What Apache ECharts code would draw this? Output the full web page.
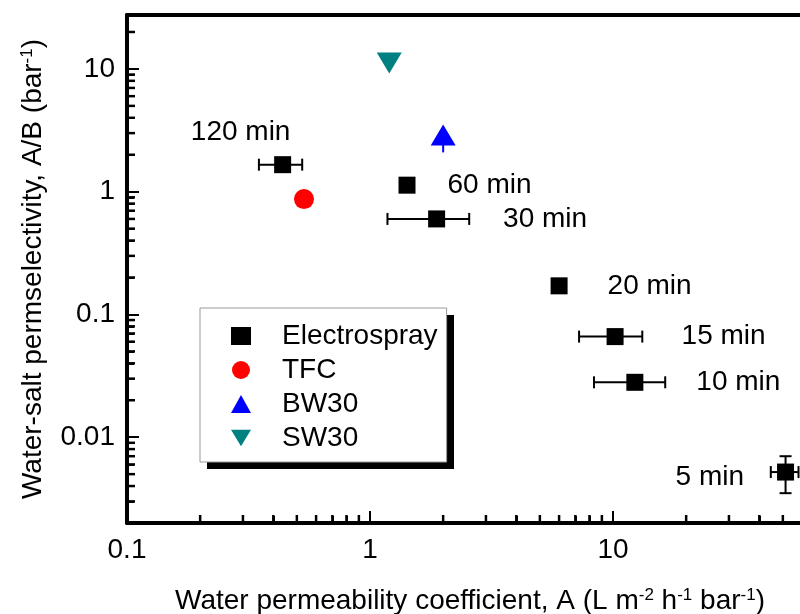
<!DOCTYPE html>
<html>
<head>
<meta charset="utf-8">
<script src="https://cdn.jsdelivr.net/npm/echarts@6/dist/echarts.min.js"></script>
<style>
  html, body { margin: 0; padding: 0; background: #fff; }
  #main { width: 800px; height: 614px; }
</style>
</head>
<body>
<div id="main"></div>
<script>
// electrospray membranes (spray time)
var sprayLabels = ['120 min', '60 min', '30 min', '20 min', '15 min', '10 min', '5 min'];
var sprayA = [0.437, 1.42, 1.88, 6.0, 10.2, 12.3, 51.3];
var sprayAB = [1.66, 1.13, 0.60, 0.171, 0.066, 0.028, 0.0052];
// error bars (null = none drawn)
var sprayALow = [0.349, null, 1.18, null, 7.25, 8.35, 44.6];
var sprayAHigh = [0.526, null, 2.56, null, 13.2, 16.4, 58];
var sprayABLow = [null, null, null, null, null, null, 0.0035];
var sprayABHigh = [null, null, null, null, null, null, 0.0070];

// commercial / reference membranes
var tfcA = [0.535];
var tfcAB = [0.87];
var bw30A = [2.0];
var bw30AB = [2.9];
var bw30ABLow = [2.09];
var bw30ABHigh = [3.3];
var sw30A = [1.20];
var sw30AB = [11.2];

// axes
var xRange = [0.1, 100];
var yRange = [0.002, 27.5];
var xTickLabels = ['0.1', '1', '10'];
var yTickLabels = ['0.01', '0.1', '1', '10'];
var xMinorTicks = [0.2, 0.3, 0.4, 0.5, 0.6, 0.7, 0.8, 0.9, 2, 3, 4, 5, 6, 7, 8, 9, 20, 30, 40, 50, 60, 70, 80, 90];
var yMinorTicks = [0.003, 0.004, 0.005, 0.006, 0.007, 0.008, 0.009,
  0.02, 0.03, 0.04, 0.05, 0.06, 0.07, 0.08, 0.09,
  0.2, 0.3, 0.4, 0.5, 0.6, 0.7, 0.8, 0.9,
  2, 3, 4, 5, 6, 7, 8, 9, 20];

var FONT = "'Liberation Sans', Arial, sans-serif";

// where each time label sits next to its point
var sprayLabelPlace = [
  { position: 'top', distance: 10, offset: [-42, 0] },
  { position: 'right', distance: 32 },
  { position: 'right', distance: 58 },
  { position: 'right', distance: 40 },
  { position: 'right', distance: 58 },
  { position: 'right', distance: 53 },
  { position: 'left', distance: 33, offset: [0, 5] }
];

var sprayData = sprayA.map(function (a, i) {
  return { name: sprayLabels[i], value: [a, sprayAB[i]], label: sprayLabelPlace[i] };
});

function errRows(xs, ys, xl, xh, yl, yh) {
  var rows = [];
  for (var i = 0; i < xs.length; i++) {
    if (xl[i] == null && yl[i] == null) continue;
    rows.push([xs[i], ys[i],
      xl[i] == null ? xs[i] : xl[i], xh[i] == null ? xs[i] : xh[i],
      yl[i] == null ? ys[i] : yl[i], yh[i] == null ? ys[i] : yh[i]]);
  }
  return rows;
}

function errorBars(color, cap) {
  return function (params, api) {
    var c = api.coord([api.value(0), api.value(1)]);
    var xl = api.coord([api.value(2), api.value(1)])[0];
    var xh = api.coord([api.value(3), api.value(1)])[0];
    var yl = api.coord([api.value(0), api.value(4)])[1];
    var yh = api.coord([api.value(0), api.value(5)])[1];
    var st = { stroke: color, lineWidth: 2 };
    var ch = [];
    if (xh - xl > 1) {
      ch.push({ type: 'line', shape: { x1: xl, y1: c[1], x2: xh, y2: c[1] }, style: st });
      if (cap) {
        ch.push({ type: 'line', shape: { x1: xl, y1: c[1] - cap, x2: xl, y2: c[1] + cap }, style: st });
        ch.push({ type: 'line', shape: { x1: xh, y1: c[1] - cap, x2: xh, y2: c[1] + cap }, style: st });
      }
    }
    if (yl - yh > 1) {
      ch.push({ type: 'line', shape: { x1: c[0], y1: yl, x2: c[0], y2: yh }, style: st });
      if (cap) {
        ch.push({ type: 'line', shape: { x1: c[0] - cap, y1: yl, x2: c[0] + cap, y2: yl }, style: st });
        ch.push({ type: 'line', shape: { x1: c[0] - cap, y1: yh, x2: c[0] + cap, y2: yh }, style: st });
      }
    }
    return { type: 'group', children: ch };
  };
}

// minor ticks (2..9 of each decade), pointing into the plot
function drawMinorTick(dx, dy) {
  return function (params, api) {
    var p = api.coord([api.value(0), api.value(1)]);
    return {
      type: 'line',
      z2: 100,
      shape: { x1: p[0], y1: p[1], x2: p[0] + dx, y2: p[1] + dy },
      style: { stroke: '#000', lineWidth: 2.5 }
    };
  };
}

// only the decade labels are written out
function labelOnly(list) {
  return function (v) {
    var s = String(+(+v).toPrecision(6));
    return list.indexOf(s) >= 0 ? s : '';
  };
}

var supRich = { sup: { fontSize: 17, verticalAlign: 'top', fontFamily: FONT, color: '#000' } };
var downTriangle = 'path://M0,0L24,0L12,20Z';

var myChart = echarts.init(document.getElementById('main'));
var option = {
  backgroundColor: '#fff',
  animation: false,
  textStyle: { fontFamily: FONT },
  grid: { left: 127, top: 15, right: -56, bottom: 91, containLabel: false, outerBoundsMode: 'none' },
  // hard drop shadow behind the legend box
  graphic: [{
    type: 'rect', z: 3, silent: true,
    shape: { x: 207, y: 315, width: 247, height: 154 },
    style: { fill: '#000' }
  }],
  legend: {
    orient: 'vertical',
    left: 200,
    top: 308,
    z: 5,
    padding: [14, 9, 10, 31],
    itemWidth: 20,
    itemHeight: 18,
    itemGap: 6,
    backgroundColor: '#fff',
    borderColor: '#999',
    borderWidth: 1,
    borderRadius: 0,
    textStyle: { fontSize: 28, color: '#000', fontFamily: FONT, padding: [0, 0, 0, 26] },
    data: [
      { name: 'Electrospray', icon: 'rect' },
      { name: 'TFC', icon: 'circle' },
      { name: 'BW30', icon: 'triangle' },
      { name: 'SW30', icon: downTriangle }
    ]
  },
  xAxis: [
    {
      type: 'log', min: xRange[0], max: xRange[1], position: 'bottom',
      axisLine: { show: true, onZero: false, lineStyle: { color: '#000', width: 4 } },
      axisTick: { show: true, inside: true, length: 12, lineStyle: { color: '#000', width: 2 } },
      minorTick: { show: true, splitNumber: 9, length: 7, lineStyle: { color: '#000', width: 2 } },
      axisLabel: { formatter: labelOnly(xTickLabels), fontSize: 28, margin: 13, color: '#000', fontFamily: FONT },
      splitLine: { show: false },
      name: 'Water permeability coefficient, A (L m{sup|-2} h{sup|-1} bar{sup|-1})',
      nameLocation: 'middle',
      nameGap: 64,
      nameTextStyle: { fontSize: 28, color: '#000', fontFamily: FONT, padding: [0, 43, 0, 0], rich: supRich }
    },
    {
      type: 'log', min: xRange[0], max: xRange[1], position: 'top',
      axisLine: { show: true, onZero: false, lineStyle: { color: '#000', width: 4 } },
      axisTick: { show: false },
      axisLabel: { show: false },
      splitLine: { show: false }
    }
  ],
  yAxis: [
    {
      type: 'log', min: yRange[0], max: yRange[1], position: 'left',
      axisLine: { show: true, onZero: false, lineStyle: { color: '#000', width: 4 } },
      axisTick: { show: true, inside: true, length: 12, lineStyle: { color: '#000', width: 2 } },
      minorTick: { show: true, splitNumber: 9, length: 7, lineStyle: { color: '#000', width: 2 } },
      axisLabel: { formatter: labelOnly(yTickLabels), fontSize: 28, margin: 12, color: '#000', fontFamily: FONT },
      splitLine: { show: false },
      name: 'Water-salt permselectivity, A/B (bar{sup|-1})',
      nameLocation: 'middle',
      nameGap: 80,
      nameTextStyle: { fontSize: 28, color: '#000', fontFamily: FONT, rich: supRich }
    }
  ],
  series: [
    {
      type: 'custom',
      name: 'x minor ticks',
      z: 10,
      silent: true,
      clip: false,
      renderItem: drawMinorTick(0, -8),
      data: xMinorTicks.map(function (v) { return [v, yRange[0]]; })
    },
    {
      type: 'custom',
      name: 'y minor ticks',
      z: 10,
      silent: true,
      clip: false,
      renderItem: drawMinorTick(8, 0),
      data: yMinorTicks.map(function (v) { return [xRange[0], v]; })
    },
    {
      type: 'custom',
      name: 'Electrospray error',
      z: 1,
      renderItem: errorBars('#000', 6),
      data: errRows(sprayA, sprayAB, sprayALow, sprayAHigh, sprayABLow, sprayABHigh),
      silent: true
    },
    {
      type: 'custom',
      name: 'BW30 error',
      z: 1,
      renderItem: errorBars('#0000ff', 0),
      data: errRows(bw30A, bw30AB, [null], [null], bw30ABLow, bw30ABHigh),
      silent: true
    },
    {
      name: 'Electrospray',
      type: 'scatter',
      z: 3,
      symbol: 'rect',
      symbolSize: 17,
      itemStyle: { color: '#000', opacity: 1 },
      label: { show: true, formatter: '{b}', fontSize: 28, color: '#000', fontFamily: FONT },
      data: sprayData
    },
    {
      name: 'TFC',
      type: 'scatter',
      z: 3,
      symbol: 'circle',
      symbolSize: 20,
      itemStyle: { color: '#ff0000', opacity: 1 },
      data: tfcA.map(function (a, i) { return [a, tfcAB[i]]; })
    },
    {
      name: 'BW30',
      type: 'scatter',
      z: 3,
      symbol: 'triangle',
      symbolSize: [25, 21],
      itemStyle: { color: '#0000ff', opacity: 1 },
      data: bw30A.map(function (a, i) { return [a, bw30AB[i]]; })
    },
    {
      name: 'SW30',
      type: 'scatter',
      z: 3,
      symbol: 'triangle',
      symbolRotate: 180,
      symbolSize: [25, 21],
      itemStyle: { color: '#008080', opacity: 1 },
      data: sw30A.map(function (a, i) { return [a, sw30AB[i]]; })
    }
  ]
};
myChart.setOption(option);
</script>
</body>
</html>
